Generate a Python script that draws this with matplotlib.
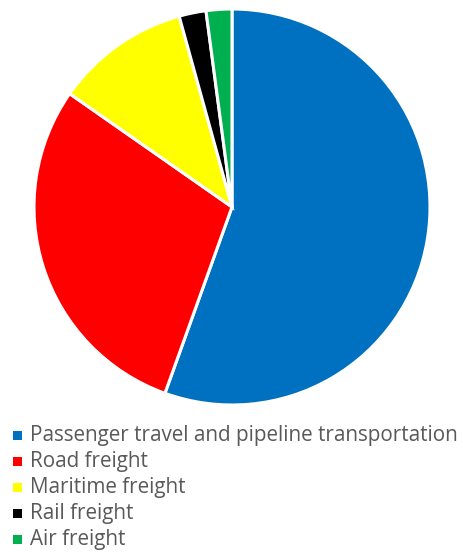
import matplotlib.pyplot as plt
from matplotlib.patches import Rectangle

# --- DATA ---
labels = ["Passenger travel and pipeline transportation", "Road freight",
          "Maritime freight", "Rail freight", "Air freight"]
shares = [55.5, 29.2, 11.0, 2.2, 2.1]
colors = ["#0070C0", "#FF0000", "#FFFF00", "#000000", "#00B050"]

W, H = 463, 552

def plot_chart():
    fig = plt.figure(figsize=(W / 100, H / 100), dpi=100)

    # pie area: centre (232, 207) px, radius 198 px
    cx, cy, r = 232, 207, 198
    ax = fig.add_axes([(cx - r) / W, (H - cy - r) / H, 2 * r / W, 2 * r / H])
    ax.pie(shares, colors=colors, startangle=90, counterclock=False, radius=1,
           wedgeprops=dict(edgecolor="white", linewidth=2.2))
    ax.set_xlim(-1.0, 1.0)
    ax.set_ylim(-1.0, 1.0)
    ax.set_aspect("equal")
    ax.axis("off")

    # legend, one row per slice
    y0, step = 435, 26
    for i, (lab, col) in enumerate(zip(labels, colors)):
        y = y0 + i * step
        fig.patches.append(Rectangle((13 / W, (H - y - 4.5) / H), 9 / W, 9 / H,
                                     transform=fig.transFigure, facecolor=col,
                                     edgecolor="none"))
        fig.text(30 / W, (H - y) / H, lab, fontsize=14.9, family="Open Sans",
                 color="#595959", va="center", ha="left")

    fig.savefig("out.png", dpi=100)

if __name__ == "__main__":
    plot_chart()
